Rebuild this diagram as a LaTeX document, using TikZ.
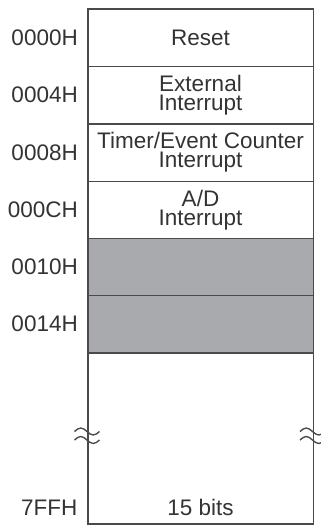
\documentclass[tikz,border=0pt]{standalone}
\usepackage{fontspec}
\setmainfont{Liberation Sans}
\definecolor{ink}{HTML}{333333}
\definecolor{rule}{HTML}{4A4A4A}
\definecolor{shade}{HTML}{A9AAAD}
\tikzset{
  cell/.style={draw=rule, line width=1.5pt, minimum width=225.5pt,
    minimum height=57.5pt, inner sep=0pt, align=center, text=ink,
    anchor=north west},
  reserved/.style={cell, fill=shade},
  addr/.style={anchor=east, text=ink, inner sep=0pt},
  brk/.style={draw=rule, line width=1.4pt},
}
\begin{document}
\begin{tikzpicture}[x=1pt, y=-1pt, font=\fontsize{22.5}{19}\selectfont]
\useasboundingbox (0,0) rectangle (321,525);

% vector table rows
\node[cell] (r0) at (87,8) {Reset};
\node[cell] (r1) at (87,65.5) {External\\Interrupt};
\node[cell] (r2) at (87,123) {Timer/Event Counter\\Interrupt};
\node[cell] (r3) at (87,180.5) {A/D\\Interrupt};
\node[reserved] (r4) at (87,237.5) {};
\node[reserved] (r5) at (87,294.5) {};
\node[cell, minimum height=171pt] (r6) at (87,352) {};

% addresses
\coordinate (col) at (78,0);
\node[addr] (a0) at (r0.center -| col) {0000H};
\node[addr] (a1) at (r1.center -| col) {0004H};
\node[addr] (a2) at (r2.center -| col) {0008H};
\node[addr] (a3) at (r3.center -| col) {000CH};
\node[addr] (a4) at (r4.center -| col) {0010H};
\node[addr] (a5) at (r5.center -| col) {0014H};
\node[anchor=base east, text=ink, inner sep=0pt] (a6) at (77.5,515) {7FFH};

% word width
\coordinate (base) at (0,515);
\node[anchor=base, text=ink, inner sep=0pt] (w) at (r6.south |- base) {15 bits};

% break marks on both sides
\foreach \xx in {87,312.5} {
  \foreach \yy in {431.5,440} {
    \draw[brk] (\xx-12.5,\yy) sin (\xx-6.25,\yy-3.5) cos (\xx,\yy)
      sin (\xx+6.25,\yy+3.5) cos (\xx+12.5,\yy);
  }
}
\end{tikzpicture}
\end{document}
